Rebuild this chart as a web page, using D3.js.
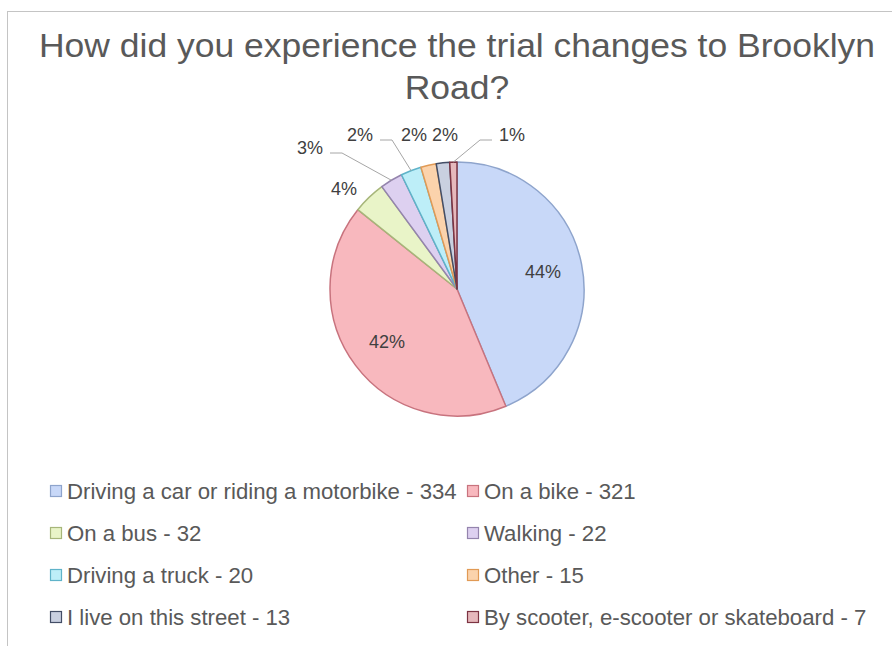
<!DOCTYPE html>
<html>
<head>
<meta charset="utf-8">
<script src="https://cdn.jsdelivr.net/npm/d3@7"></script>
<style>
    body { margin: 0; background: #fff; }
    svg { display: block; font-family: "Liberation Sans", Arial, sans-serif; }
</style>
</head>
<body>
<svg id="chart" width="892" height="646"></svg>
<script>
// chart data
var titleLines = ['How did you experience the trial changes to Brooklyn', 'Road?'];
var categories = [
    'Driving a car or riding a motorbike', 'On a bike', 'On a bus', 'Walking',
    'Driving a truck', 'Other', 'I live on this street',
    'By scooter, e-scooter or skateboard'
];
var counts = [334, 321, 32, 22, 20, 15, 13, 7];
var fills = ['#c8d8f8', '#f8b8be', '#e9f4c8', '#ddd0f0', '#bdeef8', '#fbd3ac', '#c9d0e0', '#e6b8bc'];
var strokes = ['#8ea4cc', '#c8737e', '#a7b67a', '#9484ad', '#5fb3c9', '#e19a55', '#434e66', '#7d3443'];

var svg = d3.select('#chart');
var cx = 457, cy = 289, r = 127;

// frame
svg.append('rect')
    .attr('x', 7.5).attr('y', 11.5)
    .attr('width', 892).attr('height', 646)
    .attr('fill', '#fff').attr('stroke', '#c4c4c4');

// title: condensed to fill the same width as the original
var title = svg.append('g');
titleLines.forEach(function (t, i) {
    title.append('text')
        .attr('x', cx).attr('y', 57 + i * 42)
        .attr('text-anchor', 'middle')
        .style('font-size', '33px')
        .attr('fill', '#595959')
        .text(t);
});
var titleNodes = title.selectAll('text').nodes();
var squeeze = 836 / titleNodes[0].getComputedTextLength();
titleNodes.forEach(function (n) {
    d3.select(n)
        .attr('textLength', n.getComputedTextLength() * squeeze)
        .attr('lengthAdjust', 'spacingAndGlyphs');
});

var total = d3.sum(counts);
// percentages rounded so they add up to 100 (largest remainder)
var raw = counts.map(function (c) { return c / total * 100; });
var rounded = raw.map(Math.floor);
var left = 100 - d3.sum(rounded);
d3.range(raw.length)
    .sort(function (a, b) { return (raw[b] - rounded[b]) - (raw[a] - rounded[a]); })
    .slice(0, left)
    .forEach(function (i) { rounded[i] += 1; });

var table = categories.map(function (c, i) {
    return { name: c, value: counts[i], pct: rounded[i], fill: fills[i], stroke: strokes[i] };
});

var pie = d3.pie().sort(null).value(function (d) { return d.value; });
var arcs = pie(table);
var arc = d3.arc().innerRadius(0).outerRadius(r);

var defs = svg.append('defs');
arcs.forEach(function (a, i) {
    var g = defs.append('radialGradient')
        .attr('id', 'g' + i)
        .attr('gradientUnits', 'userSpaceOnUse')
        .attr('cx', cx).attr('cy', cy).attr('r', r);
    g.append('stop').attr('offset', '0%').attr('stop-color', d3.interpolateRgb(a.data.fill, '#fff')(0.35));
    g.append('stop').attr('offset', '100%').attr('stop-color', a.data.fill);
});

var pieG = svg.append('g').attr('transform', 'translate(' + cx + ',' + cy + ')');
pieG.selectAll('path.slice')
    .data(arcs)
    .enter()
        .append('path').classed('slice', true)
        .attr('d', arc)
        .attr('fill', function (d, i) { return 'url(#g' + i + ')'; })
        .attr('stroke', function (d) { return d.data.stroke; })
        .attr('stroke-width', 1.5)
        .attr('stroke-linejoin', 'round');

// label placement, relative to the pie centre ([dx, dy, leader?])
var labelPos = [
    null, null,
    [-113, -100, false],
    [-147, -141, true],
    [-97, -154, true],
    [-43, -154, false],
    [-12, -154, false],
    [55, -154, true]
];

var inner = d3.arc().innerRadius(0).outerRadius(r * 1.38);
var edge = d3.arc().innerRadius(r).outerRadius(r);

var labels = pieG.append('g');
arcs.forEach(function (d, i) {
    var p = labelPos[i] ? [labelPos[i][0], labelPos[i][1]] : inner.centroid(d);
    labels.append('text')
        .attr('x', p[0]).attr('y', p[1])
        .attr('dy', '0.35em')
        .attr('text-anchor', 'middle')
        .style('font-size', '18px')
        .attr('fill', '#404040')
        .text(d.data.pct + '%');
    if (labelPos[i] && labelPos[i][2]) {
        var e = edge.centroid(d);
        var toRight = p[0] < e[0];
        var sx = toRight ? p[0] + 20 : p[0] - 20;
        var ly = p[1] + 5;
        var hx = toRight ? sx + 12 : sx - 12;
        labels.append('path')
            .attr('d', 'M' + sx + ',' + ly + 'L' + hx + ',' + ly + 'L' + e[0] + ',' + e[1])
            .attr('fill', 'none')
            .attr('stroke', '#a6a6a6')
            .attr('stroke-width', 1);
    }
});

// legend, two columns
var legend = svg.append('g');
var colX = [50, 467], rowY = 491, rowH = 42;
var items = legend.selectAll('g.item')
    .data(table)
    .enter()
        .append('g').classed('item', true)
        .attr('transform', function (d, i) {
            return 'translate(' + colX[i % 2] + ',' + (rowY + Math.floor(i / 2) * rowH) + ')';
        });
items.append('rect')
    .attr('x', 0.5).attr('y', -5.5)
    .attr('width', 11).attr('height', 11)
    .attr('fill', function (d) { return d.fill; })
    .attr('stroke', function (d) { return d.stroke; })
    .attr('stroke-width', 1.2);
items.append('text')
    .attr('x', 17).attr('y', 0)
    .attr('dy', '0.35em')
    .style('font-size', '16px')
    .attr('fill', '#595959')
    .text(function (d) { return d.name + ' - ' + d.value; });
var lw = items.select('text').node().getComputedTextLength();
items.selectAll('text').style('font-size', (16 * 390 / lw) + 'px');
</script>
</body>
</html>
